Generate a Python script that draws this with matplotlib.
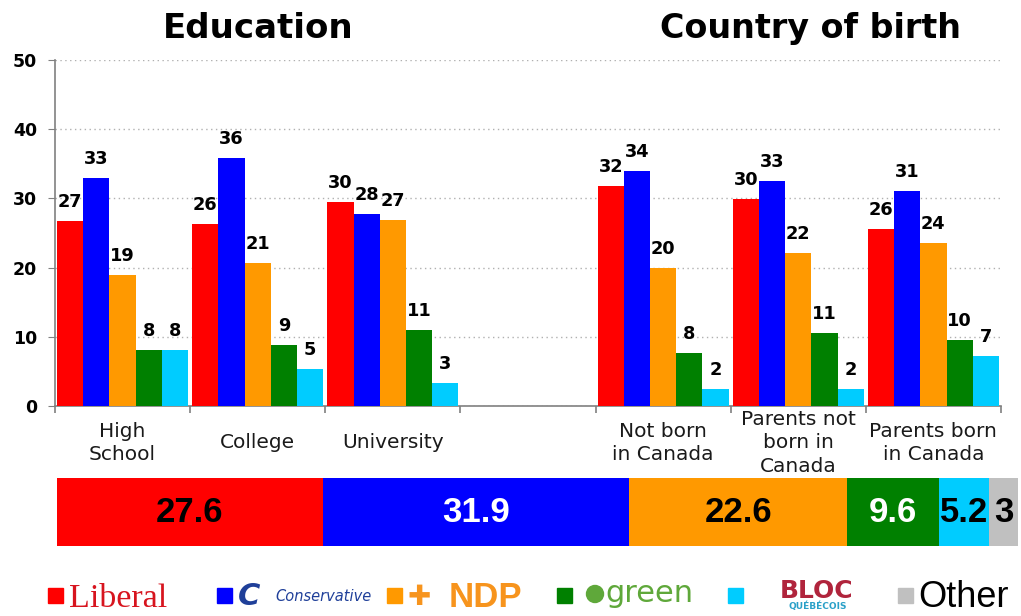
import numpy as np
import matplotlib
matplotlib.use("Agg")
import matplotlib.pyplot as plt
from matplotlib.patches import Rectangle, Ellipse
from matplotlib.transforms import blended_transform_factory

# ---------------- data ----------------
categories = ["High\nSchool", "College", "University", "",
              "Not born\nin Canada", "Parents not\nborn in\nCanada", "Parents born\nin Canada"]
liberal      = [26.7, 26.3, 29.5, np.nan, 31.8, 29.9, 25.6]
conservative = [32.9, 35.9, 27.8, np.nan, 34.0, 32.5, 31.1]
ndp          = [19.0, 20.6, 26.9, np.nan, 19.9, 22.1, 23.5]
green        = [8.1, 8.8, 11.0, np.nan, 7.6, 10.5, 9.5]
bloc         = [8.1, 5.3, 3.3, np.nan, 2.4, 2.4, 7.2]
series = [liberal, conservative, ndp, green, bloc]

section_titles = ["Education", "Country of birth"]
yticks = [0, 10, 20, 30, 40, 50]

overall_parties = ["Liberal", "Conservative", "NDP", "Green", "Bloc", "Other"]
overall_values = [27.6, 31.9, 22.6, 9.6, 5.2, 3]
overall_labels = ["27.6", "31.9", "22.6", "9.6", "5.2", "3"]

party_colors = ["#ff0000", "#0000ff", "#ff9900", "#008000", "#00ccff", "#c0c0c0"]
overall_text_colors = ["black", "white", "black", "white", "black", "black"]

W, H = 1021, 616
def fx(px): return px / W
def fy(py): return 1 - py / H

fig = plt.figure(figsize=(W / 100, H / 100), dpi=100)
fig.patch.set_facecolor("white")

# ---------------- main grouped bar chart ----------------
ax = fig.add_axes([fx(55), fy(406), fx(1001) - fx(55), fy(60) - fy(406)])
x = np.arange(len(categories))
bw = 0.194
for k, (vals, col) in enumerate(zip(series, party_colors)):
    for i, v in enumerate(vals):
        if np.isnan(v):
            continue
        xi = x[i] + (k - 2) * bw
        ax.bar(xi, v, width=bw, color=col, zorder=3)
        ax.annotate(str(int(np.floor(v + 0.5))), (xi, v), xytext=(0, 10),
                    textcoords="offset pixels", ha="center", va="bottom",
                    fontsize=12.8, fontweight="bold", family="DejaVu Sans",
                    color="black", zorder=4)

ax.set_xlim(-0.5, len(categories) - 0.5)
ax.set_ylim(0, 50)
ax.set_yticks(yticks)
ax.set_yticklabels([str(t) for t in yticks], fontsize=12.5, fontweight="bold")
ax.yaxis.grid(True, linestyle=(0, (1, 2.5)), color="#b0b0b0", linewidth=1, zorder=0)
ax.set_axisbelow(True)
for s in ["top", "right"]:
    ax.spines[s].set_visible(False)
for s in ["left", "bottom"]:
    ax.spines[s].set_color("#808080")
    ax.spines[s].set_linewidth(1.2)
ax.tick_params(axis="y", length=5, color="#808080", pad=8)
ax.set_xticks(x)
ax.set_xticklabels([])
ax.tick_params(axis="x", which="major", length=0)
ax.set_xticks(np.arange(-0.5, len(categories), 1.0), minor=True)
ax.tick_params(axis="x", which="minor", length=5, color="#808080", width=1.2)

tr = blended_transform_factory(ax.transData, fig.transFigure)
for i, lab in enumerate(categories):
    if lab:
        ax.text(x[i], fy(443), lab, transform=tr, ha="center", va="center",
                fontsize=14.5, linespacing=1.3, color="#1a1a1a", family="DejaVu Sans")

# section titles
fig.text(fx(258), fy(38), section_titles[0], ha="center", va="baseline",
         fontsize=24.5, fontweight="bold", family="DejaVu Sans")
fig.text(fx(810), fy(38), section_titles[1], ha="center", va="baseline",
         fontsize=24, fontweight="bold", family="DejaVu Sans")

# ---------------- overall stacked bar ----------------
ax2 = fig.add_axes([fx(57), fy(546), fx(1018) - fx(57), fy(478) - fy(546)])
lefts = np.concatenate([[0], np.cumsum(overall_values)[:-1]])
ax2.barh(0, overall_values, left=lefts, height=1.0, color=party_colors)
for l, v, lab, tc in zip(lefts, overall_values, overall_labels, overall_text_colors):
    ax2.text(l + v / 2, 0, lab, ha="center", va="center", fontsize=25,
             fontweight="bold", family=["Liberation Sans", "DejaVu Sans"], color=tc)
ax2.set_xlim(0, sum(overall_values))
ax2.set_ylim(-0.5, 0.5)
ax2.axis("off")

# ---------------- legend (party names) ----------------
sq = 15
square_x = [48, 217, 387, 557, 728, 898]
for px, col in zip(square_x, party_colors):
    fig.patches.append(Rectangle((fx(px), fy(603)), sq / W, sq / H, color=col,
                                 transform=fig.transFigure, figure=fig))

fig.text(fx(69), fy(607), "Liberal", ha="left", va="baseline", fontsize=24.5,
         family="Liberation Serif", color="#d7141e")
fig.text(fx(238), fy(605), "C", ha="left", va="baseline", fontsize=22,
         fontweight="bold", style="italic", family="DejaVu Sans", color="#1f3f99")
fig.text(fx(275), fy(601), "Conservative", ha="left", va="baseline", fontsize=10.5,
         style="italic", family="DejaVu Sans", color="#1f3f99")
fig.text(fx(407), fy(605), "\u271a", ha="left", va="baseline", fontsize=20,
         family="DejaVu Sans", color="#f7941d")
fig.text(fx(449), fy(607), "NDP", ha="left", va="baseline", fontsize=25,
         fontweight="bold", family="Liberation Sans", color="#f7941d")
fig.patches.append(Ellipse((fx(595), fy(594)), 17 / W, 17 / H, color="#5fa83a",
                           transform=fig.transFigure, figure=fig))
fig.text(fx(605), fy(602), "green", ha="left", va="baseline", fontsize=22,
         family="DejaVu Sans", color="#5fa83a")
fig.text(fx(780), fy(598), "BLOC", ha="left", va="baseline", fontsize=18,
         fontweight="bold", family="DejaVu Sans", color="#b0243c")
fig.text(fx(818), fy(609), "QUÉBÉCOIS", ha="center", va="baseline", fontsize=6.5,
         fontweight="bold", family="DejaVu Sans", color="#2aa0c8")
fig.text(fx(918), fy(607), "Other", ha="left", va="baseline", fontsize=26,
         family="Liberation Sans", color="black")

fig.savefig("out.png", dpi=100, facecolor="white")
